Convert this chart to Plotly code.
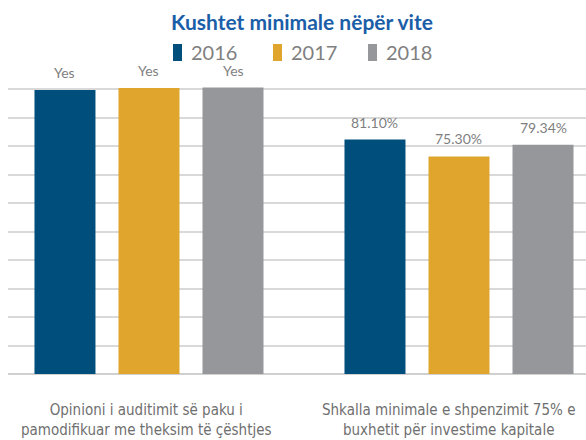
import plotly.graph_objects as go

categories = ["Opinioni i auditimit së paku i<br>pamodifikuar me theksim të çështjes",
              "Shkalla minimale e shpenzimit 75% e<br>buxhetit për investime kapitale"]
years = ["2016", "2017", "2018"]
values = {
    "2016": [98.3, 81.10],
    "2017": [99.0, 75.30],
    "2018": [99.1, 79.34],
}
labels = {
    "2016": ["Yes", "81.10%"],
    "2017": ["Yes", "75.30%"],
    "2018": ["Yes", "79.34%"],
}
colors = {"2016": "#004E7C", "2017": "#E0A52D", "2018": "#96979A"}

W, H = 586, 440
ML, MR, MT, MB = 8, 0, 85, 66
BARGAP = 0.187
BARGROUPGAP = 0.274

fig = go.Figure()
for y in years:
    fig.add_trace(go.Bar(
        x=list(range(len(categories))), y=values[y], name=y,
        marker=dict(color=colors[y], line=dict(width=0)),
        showlegend=False, hoverinfo="skip",
    ))

# value labels positioned from the bar geometry
slot = (1 - BARGAP) / len(years)
annots = []
for i, y in enumerate(years):
    off = (i - (len(years) - 1) / 2) * slot
    for j, v in enumerate(values[y]):
        annots.append(dict(
            x=j + off, y=v, xref="x", yref="y", text=labels[y][j],
            showarrow=False, yanchor="bottom", yshift=7,
            font=dict(family="Lato, Open Sans, sans-serif",
                      size=14, color="#7F7F7F"),
        ))

# category labels
label_shift = [-2, -10]
for j, c in enumerate(categories):
    annots.append(dict(
        x=j, y=-0.16, xref="x", yref="paper", text=c, showarrow=False,
        yanchor="middle", align="center", xshift=label_shift[j],
        font=dict(family="Liberation Sans Narrow, DejaVu Sans Condensed, sans-serif",
                  size=15, color="#6F6F6F"),
    ))

# manual legend
pw = W - ML - MR
ph = H - MT - MB
def px(xp):
    return (xp - ML) / pw
def py(yp):
    return (H - MB - yp) / ph

leg_x = [173, 273, 368]
shapes = []
for i, y in enumerate(years):
    shapes.append(dict(type="rect", xref="paper", yref="paper",
                       x0=px(leg_x[i]), x1=px(leg_x[i] + 9),
                       y0=py(61), y1=py(44),
                       fillcolor=colors[y], line=dict(width=0)))
    annots.append(dict(x=px(leg_x[i] + 16), y=py(52.5), xref="paper", yref="paper",
                       text=y, showarrow=False, xanchor="left", yanchor="middle",
                       font=dict(family="Lato, sans-serif", size=20, color="#7F7F7F")))

fig.update_layout(
    width=W, height=H,
    margin=dict(l=ML, r=MR, t=MT, b=MB),
    paper_bgcolor="white", plot_bgcolor="white",
    barmode="group", bargap=BARGAP, bargroupgap=BARGROUPGAP,
    title=dict(text="<b>Kushtet minimale nëpër vite</b>", x=302 / W, xanchor="center",
               y=1 - 23 / H, yanchor="middle", xref="container", yref="container",
               font=dict(family="Lato, Open Sans, sans-serif", size=21, color="#1B5EA8")),
    xaxis=dict(type="linear", range=[-0.4548, 1.4097], showticklabels=False,
               showgrid=False, zeroline=False, fixedrange=True),
    yaxis=dict(range=[0, 100], tick0=0, dtick=9.86, showticklabels=False,
               showgrid=True, gridcolor="#D9D9D9", gridwidth=1.5,
               zeroline=True, zerolinecolor="#D0D0D0", zerolinewidth=2,
               fixedrange=True),
    annotations=annots, shapes=shapes,
)

fig.write_html("out.html", config={"displayModeBar": False},
               post_script="document.body.style.margin='0';document.body.style.overflow='hidden';")
